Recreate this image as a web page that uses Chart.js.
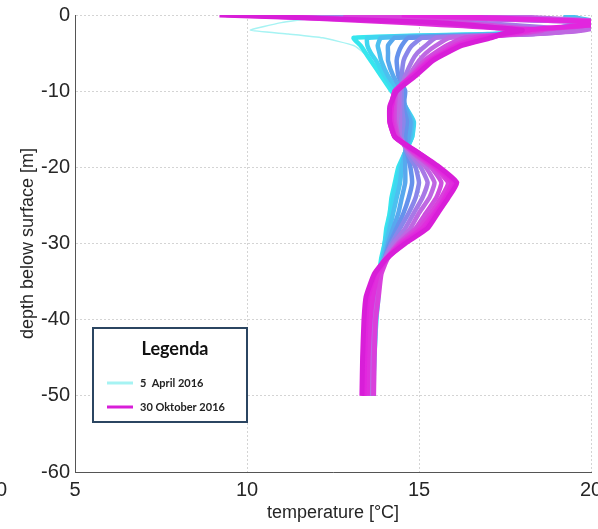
<!DOCTYPE html>
<html>
<head>
<meta charset="utf-8">
<script src="https://cdn.jsdelivr.net/npm/chart.js@4.4.0/dist/chart.umd.min.js"></script>
<style>
  html, body { margin: 0; padding: 0; background: #fff; }
  #wrap { width: 598px; height: 529px; }
</style>
</head>
<body>
<div id="wrap"><canvas id="profileChart" width="598" height="529"></canvas></div>
<script>
// depth levels [m] shared by every profile
const depths = [0, -1, -2, -2.5, -3, -4, -5, -6, -8, -10, -12, -14, -16, -18, -20, -22, -24, -26, -28, -30, -32, -34, -37, -40, -45, -50];

// temperature profiles [°C], from 5 April to 30 Oktober 2016
const apr05 = [12.6, 11.0, 10.1, 11.2, 12.2, 13.1, 13.4, 13.6, 13.9, 14.3, 14.6, 14.8, 14.8, 14.6, 14.4, 14.3, 14.2, 14.1, 14.05, 14.0, 13.92, 13.88, 13.85, 13.8, 13.75, 13.72];
const apr25 = [20.6, 19.7, 18.7, 17.0, 13.1, 13.3, 13.45, 13.6, 13.9, 14.2, 14.55, 14.8, 14.8, 14.6, 14.4, 14.3, 14.2, 14.15, 14.05, 14.0, 13.9, 13.85, 13.82, 13.76, 13.7, 13.66];
const may15 = [21.0, 19.9, 18.9, 17.2, 13.5, 13.5, 13.6, 13.75, 14.0, 14.3, 14.6, 14.85, 14.8, 14.6, 14.45, 14.35, 14.25, 14.2, 14.1, 14.0, 13.95, 13.85, 13.78, 13.7, 13.64, 13.62];
const jun04 = [19.2, 20.2, 19.0, 17.5, 13.9, 13.8, 13.85, 13.9, 14.1, 14.4, 14.6, 14.8, 14.75, 14.6, 14.5, 14.45, 14.35, 14.25, 14.15, 14.05, 13.95, 13.85, 13.72, 13.66, 13.6, 13.58];
const jun24 = [15.5, 20.4, 19.2, 17.8, 14.3, 14.1, 14.1, 14.1, 14.25, 14.5, 14.6, 14.75, 14.7, 14.6, 14.6, 14.6, 14.5, 14.4, 14.25, 14.1, 14.0, 13.85, 13.68, 13.62, 13.56, 13.52];
const jul14 = [13.0, 20.6, 19.4, 18.0, 14.7, 14.5, 14.4, 14.35, 14.4, 14.6, 14.55, 14.65, 14.6, 14.65, 14.75, 14.8, 14.7, 14.55, 14.35, 14.15, 14.0, 13.88, 13.75, 13.68, 13.62, 13.6];
const aug03 = [11.6, 20.5, 19.6, 18.2, 15.1, 14.8, 14.65, 14.55, 14.5, 14.5, 14.5, 14.55, 14.5, 14.65, 14.9, 15.0, 14.9, 14.7, 14.45, 14.2, 14.0, 13.82, 13.64, 13.58, 13.52, 13.48];
const aug23 = [10.5, 16.5, 19.7, 18.3, 15.5, 15.2, 14.95, 14.8, 14.6, 14.45, 14.45, 14.45, 14.45, 14.7, 15.05, 15.25, 15.1, 14.85, 14.6, 14.25, 14.0, 13.8, 13.6, 13.54, 13.48, 13.44];
const sep12 = [17.0, 20.8, 19.8, 18.4, 15.9, 15.5, 15.2, 15.0, 14.7, 14.4, 14.4, 14.35, 14.4, 14.75, 15.2, 15.45, 15.3, 15.0, 14.75, 14.35, 14.05, 13.86, 13.72, 13.66, 13.6, 13.58];
const sep27 = [9.4, 16.0, 18.6, 17.9, 16.3, 15.8, 15.45, 15.15, 14.75, 14.35, 14.3, 14.3, 14.4, 14.8, 15.35, 15.65, 15.5, 15.2, 14.9, 14.4, 14.05, 13.76, 13.56, 13.5, 13.44, 13.42];
const oct07 = [12.8, 20.5, 18.4, 17.8, 16.6, 16.0, 15.6, 15.25, 14.8, 14.3, 14.25, 14.25, 14.35, 14.85, 15.45, 15.85, 15.65, 15.35, 15.0, 14.45, 14.08, 13.9, 13.82, 13.74, 13.7, 13.68];
const oct17 = [10.0, 14.5, 18.2, 17.6, 16.8, 16.1, 15.7, 15.3, 14.8, 14.3, 14.2, 14.2, 14.3, 14.9, 15.5, 15.95, 15.75, 15.45, 15.1, 14.5, 14.05, 13.8, 13.66, 13.58, 13.52, 13.5];
const oct24 = [14.5, 20.7, 18.0, 17.5, 17.0, 16.2, 15.75, 15.35, 14.85, 14.3, 14.2, 14.15, 14.3, 14.95, 15.55, 16.05, 15.8, 15.5, 15.2, 14.55, 14.05, 13.72, 13.52, 13.46, 13.42, 13.4];
const oct30 = [9.2, 15.5, 18.0, 17.4, 17.1, 16.25, 15.8, 15.4, 14.9, 14.35, 14.15, 14.15, 14.3, 14.95, 15.6, 16.1, 15.85, 15.55, 15.25, 14.6, 14.05, 13.7, 13.46, 13.4, 13.36, 13.34];

const profiles = [apr05, apr25, may15, jun04, jun24, jul14, aug03, aug23, sep12, sep27, oct07, oct17, oct24, oct30];
const legendLabels = ['5  April 2016', '30 Oktober 2016'];

const xTicks = [5, 10, 15, 20];
const yTicks = [0, -10, -20, -30, -40, -50, -60];

// colours run from cyan (april) to magenta (oktober)
const lineColors = ['#a6f3f3', '#36e6ee', '#3fd6f0', '#4cc0f0', '#58a8ee', '#6592ec', '#8a86ea',
                    '#a878e6', '#bf68e2', '#cf4ede', '#d940dc', '#df30dc', '#e226de', '#d81ed8'];

const datasets = profiles.map(function(temps, i) {
    return {
        label: i === 0 ? legendLabels[0] : (i === profiles.length - 1 ? legendLabels[1] : ''),
        data: temps.map(function(t, j) { return { x: t, y: depths[j] }; }),
        borderColor: lineColors[i],
        borderWidth: i === 0 ? 1.5 : (i > 9 ? 5 : 4.5),
        showLine: true,
        pointRadius: 0,
        tension: 0.15,
        order: profiles.length - i
    };
});

// legend box drawn inside the plot like the original
const boxLegend = {
    id: 'boxLegend',
    afterDraw(chart) {
        const ctx = chart.ctx;
        const a = chart.chartArea;
        const x0 = a.left + 18, y0 = a.top + 313, w = 154, h = 94;
        ctx.save();
        ctx.fillStyle = '#fff';
        ctx.fillRect(x0, y0, w, h);
        ctx.strokeStyle = '#2b4561';
        ctx.lineWidth = 2;
        ctx.strokeRect(x0, y0, w, h);
        ctx.fillStyle = '#111';
        ctx.font = 'bold 18px Lato';
        ctx.textAlign = 'center';
        ctx.textBaseline = 'middle';
        ctx.fillText('Legenda', x0 + 82, y0 + 21);
        const first = chart.data.datasets[0];
        const last = chart.data.datasets[chart.data.datasets.length - 1];
        [first, last].forEach(function(ds, k) {
            const yy = y0 + 55 + k * 24;
            ctx.strokeStyle = ds.borderColor;
            ctx.lineWidth = 3;
            ctx.beginPath();
            ctx.moveTo(x0 + 14, yy);
            ctx.lineTo(x0 + 40, yy);
            ctx.stroke();
            ctx.fillStyle = '#222';
            ctx.font = 'bold 11px Lato';
            ctx.textAlign = 'left';
            ctx.fillText(ds.label, x0 + 47, yy);
        });
        // edge of the neighbouring panel's tick label
        ctx.fillStyle = '#262626';
        ctx.font = '20px "Liberation Sans"';
        ctx.textAlign = 'right';
        ctx.fillText('20', 7, 490);
        ctx.restore();
    }
};

const ctx = document.getElementById('profileChart').getContext('2d');
new Chart(ctx, {
    type: 'scatter',
    data: { datasets: datasets },
    options: {
        responsive: false,
        animation: false,
        layout: { padding: { left: 0, right: 7, top: 15, bottom: 0 }, autoPadding: false },
        plugins: { legend: { display: false }, tooltip: { enabled: false } },
        scales: {
            x: {
                type: 'linear',
                min: 5,
                max: 20,
                afterBuildTicks: function(s) { s.ticks = xTicks.map(function(v) { return { value: v }; }); },
                afterFit: function(s) { s.height = 57; s.paddingLeft = 0; s.paddingRight = 0; },
                ticks: { color: '#262626', font: { family: 'Liberation Sans', size: 20 }, padding: 6, maxRotation: 0 },
                grid: { color: '#d4d4d4', drawTicks: false },
                border: { color: '#555', width: 1, dash: [2, 2] },
                title: { display: true, text: 'temperature [°C]', color: '#262626',
                         font: { family: 'Liberation Sans', size: 18 }, padding: { top: 0, bottom: 5 } }
            },
            y: {
                type: 'linear',
                min: -60,
                max: 0,
                afterBuildTicks: function(s) { s.ticks = yTicks.map(function(v) { return { value: v }; }); },
                afterFit: function(s) { s.width = 75; s.paddingTop = 0; s.paddingBottom = 0; },
                ticks: { color: '#262626', font: { family: 'Liberation Sans', size: 20 }, padding: 5,
                         callback: function(v) { return String(v); } },
                grid: { color: '#d4d4d4', drawTicks: false },
                border: { color: '#555', width: 1, dash: [2, 2] },
                title: { display: true, text: 'depth below surface [m]', color: '#262626',
                         font: { family: 'Liberation Sans', size: 18 }, padding: { top: 17, bottom: 0 } }
            }
        }
    },
    plugins: [boxLegend]
});
</script>
</body>
</html>
